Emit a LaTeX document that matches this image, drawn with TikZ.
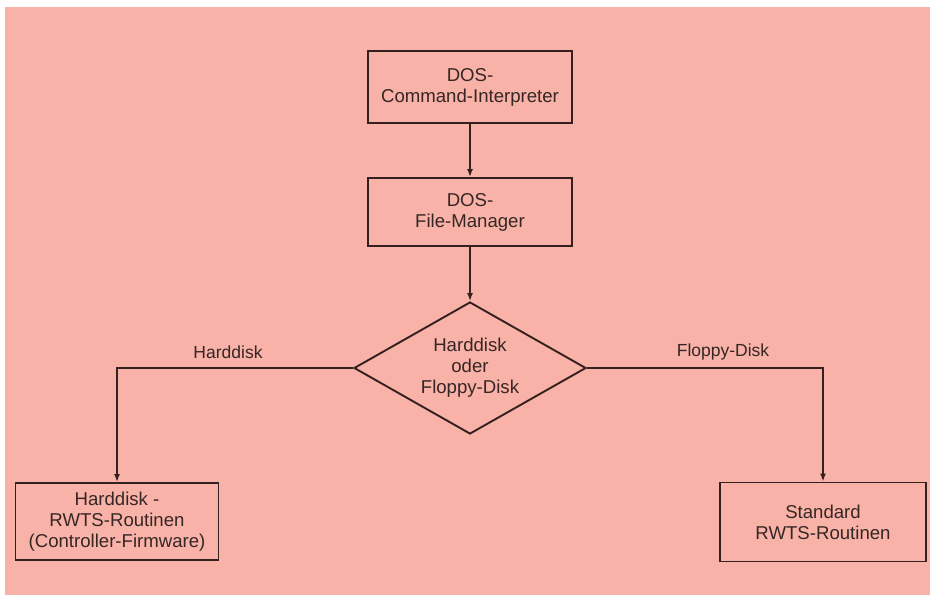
\documentclass[tikz,border=0pt]{standalone}
\usepackage{fontspec}
\setmainfont{Liberation Sans}
\usetikzlibrary{shapes.geometric,arrows.meta}
\definecolor{paper}{HTML}{F8B2A7}
\definecolor{ink}{HTML}{36201F}
\definecolor{txt}{HTML}{362625}
\begin{document}
\begin{tikzpicture}[x=1pt,y=-1pt,
  every node/.style={text=txt,font=\fontsize{18.6}{21}\selectfont,align=center},
  stepbox/.style={draw=ink,line width=1.9pt,inner sep=0pt},
  decision/.style={diamond,draw=ink,line width=1.9pt,inner sep=0pt,aspect=1.76,
    minimum width=232pt,minimum height=132pt},
  flow/.style={draw=ink,line width=1.7pt,-{Latex[length=8pt,width=6pt]}},
  branch/.style={font=\fontsize{17.5}{20}\selectfont}]
  % page and tinted sheet
  \useasboundingbox (0,0) rectangle (930,595);
  \fill[white] (0,0) rectangle (930,595);
  \fill[paper] (5,7) rectangle (930,595);

  % blocks
  \node[stepbox,minimum width=204pt,minimum height=72pt] (cmd) at (470,87)
    {DOS-\\Command-Interpreter};
  \node[stepbox,minimum width=204pt,minimum height=68pt] (fm) at (470,212)
    {DOS-\\File-Manager};
  \node[decision] (dec) at (470,368) {Harddisk\\oder\\Floppy-Disk};
  \node[stepbox,minimum width=203pt,minimum height=77pt] (hd) at (117,521.5)
    {Harddisk -\\RWTS-Routinen\\(Controller-Firmware)};
  \node[stepbox,minimum width=206pt,minimum height=79pt] (std) at (823,522)
    {Standard\\RWTS-Routinen};

  % connectors
  \draw[flow] (cmd) -- (fm);
  \draw[flow] (fm) -- (dec);
  \draw[flow] (dec.west) -| (hd.north);
  \draw[flow] (dec.east) -| (std.north);

  % branch labels
  \node[branch] (lhd) at (228,352) {Harddisk};
  \node[branch] (lfl) at (723,352) {Floppy-Disk};
\end{tikzpicture}
\end{document}
